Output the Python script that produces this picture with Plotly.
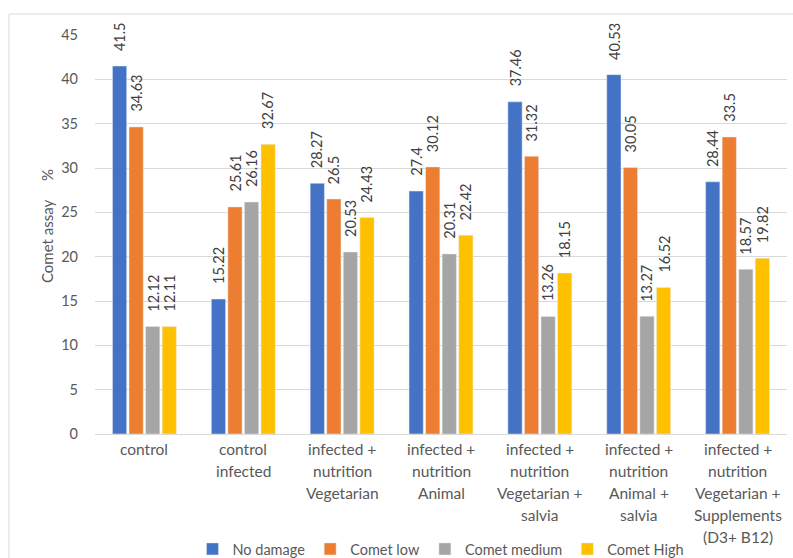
import plotly.graph_objects as go

categories = [
    "control",
    "control<br>infected",
    "infected +<br>nutrition<br>Vegetarian",
    "infected +<br>nutrition<br>Animal",
    "infected +<br>nutrition<br>Vegetarian +<br>salvia",
    "infected +<br>nutrition<br>Animal +<br>salvia",
    "infected +<br>nutrition<br>Vegetarian +<br>Supplements<br>(D3+ B12)",
]
no_damage = [41.5, 15.22, 28.27, 27.4, 37.46, 40.53, 28.44]
comet_low = [34.63, 25.61, 26.5, 30.12, 31.32, 30.05, 33.5]
comet_medium = [12.12, 26.16, 20.53, 20.31, 13.26, 13.27, 18.57]
comet_high = [12.11, 32.67, 24.43, 22.42, 18.15, 16.52, 19.82]

series = [
    ("No damage", no_damage, "#4472C4"),
    ("Comet low", comet_low, "#ED7D31"),
    ("Comet medium", comet_medium, "#A5A5A5"),
    ("Comet High", comet_high, "#FFC000"),
]

FONT = "Lato"
BARGAP = 0.33
BARGROUPGAP = 0.14
W, H = 793, 558
ML, MR, MT, MB = 95, 6, 35, 124
PW, PH = W - ML - MR, H - MT - MB

fig = go.Figure()
n = len(series)
slot = (1 - BARGAP) / n
for k, (name, vals, color) in enumerate(series):
    fig.add_trace(go.Bar(name=name, x=categories, y=vals, marker_color=color))
    # value labels, rotated, above each bar
    for ci, v in enumerate(vals):
        fig.add_annotation(
            x=ci + (k - (n - 1) / 2) * slot, y=v, xref="x", yref="y",
            text=f"{v:g}", textangle=-90, showarrow=False,
            xanchor="center", yanchor="bottom", yshift=13,
            font=dict(family=FONT, size=14.5, color="#404040"),
        )

# multi-line category labels with wider line spacing
for cat in categories:
    for i, line in enumerate(cat.split("<br>")):
        fig.add_annotation(
            x=cat, y=0, xref="x", yref="y", text=line, showarrow=False,
            yanchor="middle", yshift=-(15 + 22 * i),
            font=dict(family=FONT, size=15.5, color="#595959"),
        )

# y-axis title (two parts, as in the original)
for txt, ypx in (("Comet assay", 241), ("%", 175)):
    fig.add_annotation(
        x=(47 - ML) / PW, y=(H - MB - ypx) / PH, xref="paper", yref="paper",
        text=txt, textangle=-90, showarrow=False,
        xanchor="center", yanchor="middle",
        font=dict(family=FONT, size=15, color="#595959"),
    )

fig.add_shape(type="rect", xref="paper", yref="paper",
              x0=(9 - ML) / PW, x1=1.2, y0=-0.5, y1=(H - MB - 14) / PH,
              line=dict(color="#d9d9d9", width=1), layer="below")

fig.update_layout(
    width=W, height=H,
    margin=dict(l=ML, r=MR, t=MT, b=MB, autoexpand=False),
    paper_bgcolor="white", plot_bgcolor="white",
    barmode="group", bargap=BARGAP, bargroupgap=BARGROUPGAP,
    font=dict(family=FONT, size=14, color="#595959"),
    legend=dict(orientation="h", xref="paper", x=0.5, xanchor="center",
                yref="container", y=(H - 549) / H, yanchor="middle",
                font=dict(family=FONT, size=14.5, color="#595959"),
                itemclick=False),
    xaxis=dict(showticklabels=False, showgrid=False, showline=True,
               linecolor="#d9d9d9", ticks="", range=[-0.5, len(categories) - 0.5]),
    yaxis=dict(range=[0, 45], dtick=5, showgrid=True, gridcolor="#d9d9d9",
               zeroline=False, showline=False, ticks="",
               ticklabelstandoff=16,
               tickfont=dict(family=FONT, size=14.5, color="#595959")),
)

fig.write_html("out.html")
